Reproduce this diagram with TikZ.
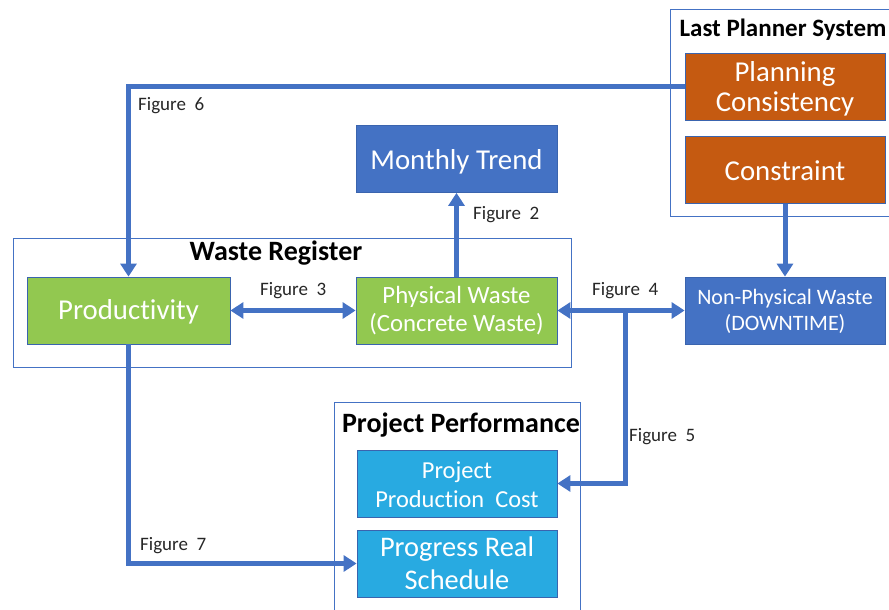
\documentclass[tikz,border=0pt]{standalone}
\usepackage{fontspec}
\setmainfont{Carlito}[Ligatures=NoCommon]
\usetikzlibrary{arrows.meta}
\definecolor{flowblue}{HTML}{4472C4}
\definecolor{boxgreen}{HTML}{92C850}
\definecolor{boxorange}{HTML}{C55A11}
\definecolor{boxsky}{HTML}{28AAE1}
\definecolor{edgeblue}{HTML}{3A64AE}
% centred lines of block text, lowered by #1 while keeping the natural box size
\newcommand\blocklines[2]{\raisebox{#1}[\height][\depth]{\begin{tabular}{@{}c@{}}#2\end{tabular}}}
\tikzset{
  blockbox/.style={draw=edgeblue, line width=0.8pt, text=white,
    inner sep=0pt, minimum width=200pt, minimum height=67pt},
  greenbox/.style={blockbox, fill=boxgreen},
  orangebox/.style={blockbox, fill=boxorange},
  bluebox/.style={blockbox, fill=flowblue},
  skybox/.style={blockbox, fill=boxsky},
  groupframe/.style={draw=flowblue, line width=0.9pt},
  grouptitle/.style={text=black, inner sep=0pt},
  figlabel/.style={font=\fontsize{19}{21}\selectfont, text=black!85, inner sep=0pt},
  conn/.style={draw=flowblue, line width=5pt,
    -{Triangle[width=16pt,length=13pt]}},
  biconn/.style={draw=flowblue, line width=5pt,
    {Triangle[width=16pt,length=13pt]}-{Triangle[width=16pt,length=13pt]}}
}
\begin{document}
\begin{tikzpicture}[x=1pt,y=-1pt]
\useasboundingbox (0,0) rectangle (889,610);

% group frames
\draw[groupframe] (670,9) rectangle (897,216);
\draw[groupframe] (13,238) rectangle (571,367);
\draw[groupframe] (334,402) rectangle (580,618);

\node[grouptitle, font=\bfseries\fontsize{25}{28}\selectfont] (lpstitle) at (783,30) {Last Planner System};
\node[grouptitle, font=\bfseries\fontsize{28}{30}\selectfont] (wrtitle) at (276,253) {Waste Register};
\node[grouptitle, font=\bfseries\fontsize{28}{30}\selectfont] (pptitle) at (461,425) {Project Performance};

% blocks
\node[orangebox, font=\fontsize{28.8}{30}\selectfont] (plan) at (785,86.5) {\blocklines{-3.5pt}{Planning\\Consistency}};
\node[orangebox, font=\fontsize{28.8}{32}\selectfont] (cons) at (785,170) {\blocklines{-3.6pt}{Constraint}};
\node[bluebox, minimum width=201pt, font=\fontsize{28.8}{32}\selectfont] (trend) at (456.5,159) {\blocklines{-3.6pt}{Monthly Trend}};
\node[greenbox, minimum width=203pt, font=\fontsize{28.8}{32}\selectfont] (prod) at (128.5,310.5) {\blocklines{-2.6pt}{Productivity}};
\node[greenbox, minimum width=201pt, font=\fontsize{24.8}{28}\selectfont] (phys) at (456.5,310.5) {\blocklines{-1.1pt}{Physical Waste\\(Concrete Waste)}};
\node[bluebox, font=\fontsize{22}{26}\selectfont] (nonphys) at (785,310.5) {\blocklines{-1.6pt}{Non-Physical Waste\\(DOWNTIME)}};
\node[skybox, font=\fontsize{24.4}{29}\selectfont] (cost) at (457,483.5) {\blocklines{-3.2pt}{Project\\Production\ \ Cost}};
\node[skybox, font=\fontsize{28.4}{33}\selectfont] (prog) at (457,563.5) {\blocklines{-3.2pt}{Progress Real\\Schedule}};

% connectors
\draw[conn] (plan.west) -| (prod.north);
\draw[conn] (cons.south) -- (nonphys.north);
\draw[conn] (phys.north) -- (trend.south);
\draw[biconn] (prod.east) -- (phys.west);
\draw[biconn] (phys.east) -- (nonphys.west);
\coordinate (split) at (625,310.5);
\draw[conn] (split) |- (cost.east);
\draw[conn] (prod.south) |- (prog.west);

% figure labels
\node[figlabel, anchor=west] (f6) at (138,106) {Figure\ \ 6};
\node[figlabel, anchor=west] (f2) at (473,215) {Figure\ \ 2};
\node[figlabel, anchor=west] (f3) at (260,291) {Figure\ \ 3};
\node[figlabel, anchor=west] (f4) at (592,291) {Figure\ \ 4};
\node[figlabel, anchor=west] (f5) at (629,437) {Figure\ \ 5};
\node[figlabel, anchor=west] (f7) at (140,546) {Figure\ \ 7};
\end{tikzpicture}
\end{document}
